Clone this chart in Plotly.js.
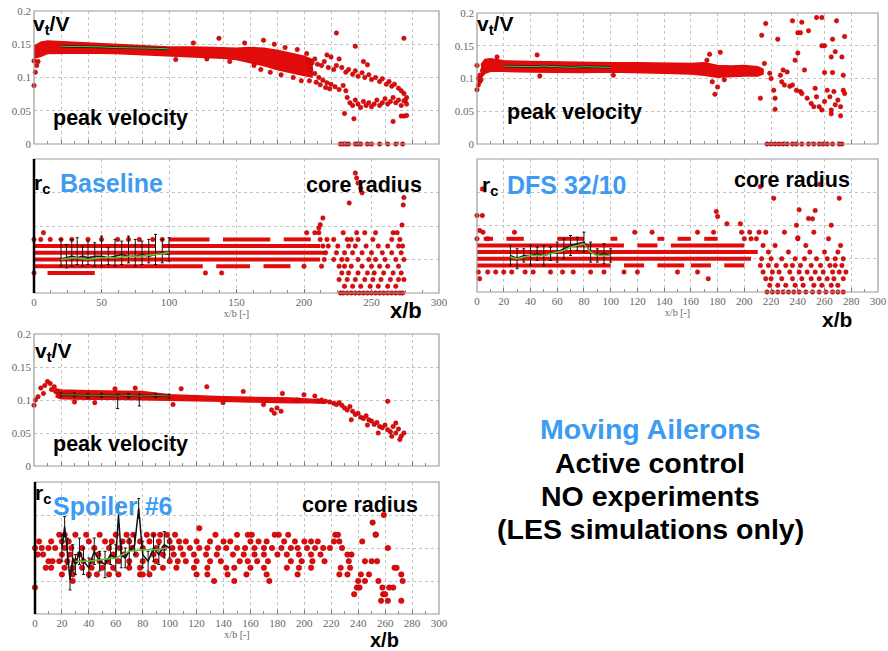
<!DOCTYPE html>
<html><head><meta charset="utf-8">
<script src="https://cdn.plot.ly/plotly-3.0.1.min.js"></script>
<style>html,body{margin:0;padding:0;background:#fff}#chart{width:888px;height:651px}</style>
</head><body><div id="chart"></div>
<script>
// ================= DATA =================
// ---- Baseline : peak velocity v_t/V ----
const baseBandX  = [0, 5, 10, 20, 40, 60, 80, 100, 120, 140, 150, 160, 170, 180, 190, 200, 206];
const baseBandHi = [0.147,0.153,0.155,0.154,0.152,0.150,0.148,0.146,0.146,0.145,0.144,0.145,0.144,0.141,0.137,0.132,0.127];
const baseBandLo = [0.129,0.132,0.136,0.137,0.137,0.136,0.135,0.133,0.131,0.129,0.127,0.123,0.118,0.112,0.107,0.103,0.101];
const baseVelX = [0,1,2,0,3, 137,170,105,118,128,145,156,163,168,175,178,183,186,192,195,198,202,
  203,206,208,210,213,215,217,218,220,222,224,226,228,231,233,236,238,240,243,244,245,247,248,250,253,256,258,261,263,265,267,270,272,274,276,275,
  205,208,211,214,217,220,223,226,229,231,204,209,212,216,219,
  232,234,236,238,240,242,244,246,248,250,252,254,256,258,260,262,264,266,268,270,272,274,276,
  224,238,274,230,237,266,272,274,276,
  227,229,231,233,238,240,242,247,250,256,262,268,273];
const baseVelY = [0.088,0.108,0.118,0.125,0.124, 0.159,0.156,0.127,0.152,0.128,0.124,0.152,0.118,0.112,0.108,0.150,0.104,0.145,0.100,0.142,0.095,0.136,
  0.125,0.122,0.128,0.120,0.118,0.124,0.134,0.115,0.131,0.112,0.118,0.128,0.115,0.108,0.112,0.105,0.110,0.102,0.107,0.124,0.100,0.119,0.104,0.097,0.100,0.094,0.098,0.090,0.094,0.087,0.090,0.084,0.080,0.076,0.070,0.065,
  0.112,0.106,0.100,0.096,0.092,0.090,0.086,0.082,0.088,0.080,0.095,0.093,0.089,0.085,0.083,
  0.070,0.062,0.058,0.066,0.060,0.055,0.064,0.058,0.062,0.056,0.060,0.066,0.058,0.062,0.068,0.060,0.064,0.070,0.062,0.066,0.058,0.065,0.060,
  0.167,0.147,0.159,0.046,0.038,0.034,0.042,0.042,0.043,
  0,0,0,0,0,0,0,0,0,0,0,0,0];
const baseMeanX = [20,30,40,50,60,70,80,90,100];
const baseMeanY = [0.147,0.147,0.146,0.146,0.145,0.145,0.144,0.144,0.143];

// ---- Baseline : core radius r_c (quantised rows) ----
const baseRowSegY  = [1.6,1.6,1.6,1.4,1.4,1.2,1.0,0.8,0.8,0.8,0.6];
const baseRowSegX0 = [100,140,185,0,95,0,0,0,135,170,10];
const baseRowSegX1 = [130,175,205,90,212,215,212,125,160,190,45];
const baseRadLevels = [1.8,1.6,1.4,1.2,1.0,0.8,0.6,0.4,0.2,0];
const baseRadRows = [
  [7,202,208,211,229,239,245,253,266,269],
  [0,5,12,20,28,40,50,62,70,78,88,95,212,217,222,232,235,240,251,265,271],
  [214,218,225,233,238,246,255,262,270,273],
  [216,224,230,236,243,250,258,265,272],
  [215,222,228,232,240,248,253,260,268,274],
  [200,213,226,230,235,243,250,256,262,270],
  [0,127,139,228,233,240,247,252,259,266,272],
  [226,232,238,245,251,257,264,270,274],
  [230,236,242,249,255,262,268],
  [227,229,232,235,238,241,244,247,250,253,256,259,262,265,268,271,273]
];
const baseRadHiX = [233.5,238,239,240,242,243,274,273.5,272.6,214,212,211];
const baseRadHiY = [2.69,3.58,3.43,3.28,3.13,2.99,2.85,2.63,2.03,2.24,2.04,1.94];
const baseRadMeanX = [20,24,28,32,36,40,45,50,55,60,65,70,75,80,85,90,95,100];
const baseRadMeanY = [1.0,1.05,1.1,1.05,1.1,1.05,1.1,1.1,1.05,1.1,1.15,1.1,1.1,1.15,1.1,1.15,1.2,1.15];
const baseRadErrUp = [0.6,0.4,0.5,0.6,0.3,0.5,0.4,0.6,0.3,0.5,0.4,0.6,0.5,0.4,0.5,0.6,0.4,0.5];
const baseRadErrDn = [0.2,0.3,0.3,0.2,0.3,0.2,0.3,0.3,0.2,0.3,0.3,0.2,0.3,0.3,0.2,0.3,0.3,0.2];
const baseRadGreenX = [20,30,40,50,60,70,80,90,100];
const baseRadGreenY = [1.0,1.05,1.0,1.05,1.05,1.1,1.1,1.15,1.2];

// ---- DFS 32/10 : peak velocity ----
const dfsBandX  = [3,6,10,20,40,60,80,100,120,140,160,170,180,190,200,210,214];
const dfsBandHi = [0.121,0.129,0.130,0.127,0.126,0.125,0.124,0.124,0.124,0.123,0.123,0.124,0.120,0.119,0.120,0.118,0.114];
const dfsBandLo = [0.101,0.108,0.111,0.111,0.110,0.109,0.109,0.110,0.109,0.108,0.107,0.105,0.102,0.103,0.104,0.104,0.107];
const dfsVelX = [0,1,2,1,3,0,4,2, 45,47,102,15,174,182,180,178,176,172,185,
  216,213,212,225,223,236,243,240,242,248,254,258,269,275,266,260,258,240,238,268,265,273,245,260,266,274,
  215,219,220,222,223,227,228,229,232,230,234,236,239,242,243,247,250,252,253,254,256,258,260,262,264,265,267,268,270,272,274,275,265,272,
  217,220,223,226,229,232,236,239,243,248,252,256,259,262,266,271,273];
const dfsVelY = [0.083,0.090,0.095,0.100,0.098,0.120,0.112,0.105, 0.136,0.104,0.105,0.133,0.137,0.140,0.087,0.076,0.095,0.128,0.098,
  0.184,0.166,0.070,0.160,0.053,0.188,0.186,0.170,0.170,0.173,0.193,0.193,0.188,0.164,0.160,0.150,0.150,0.139,0.128,0.141,0.133,0.133,0.113,0.109,0.109,0.105,
  0.123,0.108,0.100,0.082,0.070,0.105,0.095,0.113,0.110,0.090,0.088,0.090,0.082,0.080,0.077,0.070,0.062,0.057,0.085,0.072,0.057,0.052,0.065,0.082,0.072,0.052,0.080,0.060,0.067,0.057,0.082,0.077,0.046,0.043,
  0,0,0,0,0,0,0,0,0,0,0,0,0,0,0,0,0];
const dfsMeanX = [20,30,40,50,60,70,80,90,100];
const dfsMeanY = [0.119,0.118,0.118,0.119,0.118,0.117,0.118,0.118,0.117];

// ---- DFS 32/10 : core radius ----
const dfsRowSegY  = [1.4,1.4,1.4,1.2,1.0,0.8,0.8,0.8,0.8,0.8,1.6,1.6,1.6,1.6,1.6,1.6,1.6];
const dfsRowSegX0 = [0,120,145,0,0,0,110,135,160,185,5,22,60,100,135,150,170];
const dfsRowSegX1 = [110,135,200,210,205,100,125,155,175,200,12,35,80,105,140,160,180];
const dfsRadLevels = [1.8,1.6,1.4,1.2,1.0,0.8,0.6,0.4,0.2,0];
const dfsRadRows = [
  [4.5,28,118,131,165,177,198,204,211,216,230,252],
  [0,8,200,205,209,240,263],
  [214,223,246,272],
  [218,233,249,260,270],
  [213,220,228,238,245,254,262,268,274],
  [212,218,224,231,236,242,250,257,264,268,273],
  [1,8,14,20,26,36,42,55,64,72,85,95,110,120,150,165,214,221,226,234,241,247,253,259,266,271,276],
  [2,173,216,220,228,236,243,250,256,262,267,274],
  [219,225,231,238,244,252,258,265,270],
  [217,221,225,229,233,237,241,246,251,256,261,266,270,274]
];
const dfsRadHiX = [0,4,4,2,179,180,187,197,212,222,271,256.5,241,248,251,253,239,265,240];
const dfsRadHiY = [2.3,2.3,3.1,1.85,2.42,2.27,2.05,2.05,3.17,2.82,2.82,3.24,2.47,2.21,2.2,2.45,2.01,2.01,1.63];
const dfsRadMeanX = [25,30,35,40,45,50,55,60,65,70,75,80,85,90,95,100];
const dfsRadMeanY = [1.1,1.0,1.1,1.1,1.15,1.1,1.15,1.2,1.3,1.4,1.45,1.5,1.2,1.1,1.15,1.1];
const dfsRadErr   = [0.3,0.3,0.2,0.3,0.2,0.3,0.2,0.3,0.3,0.3,0.2,0.3,0.3,0.2,0.3,0.2];
const dfsRadGreenY = [1.05,1.0,1.05,1.1,1.1,1.1,1.15,1.2,1.25,1.35,1.4,1.45,1.2,1.1,1.1,1.1];

// ---- Spoiler #6 : peak velocity ----
const spBandX  = [16,20,40,60,80,100,120,140,160,175,190,205,215];
const spBandHi = [0.117,0.115,0.114,0.113,0.113,0.108,0.106,0.105,0.104,0.104,0.103,0.101,0.099];
const spBandLo = [0.105,0.102,0.101,0.101,0.101,0.100,0.099,0.098,0.097,0.096,0.096,0.096,0.095];
const spVelX = [0,1,3,7,10,12,15,16,5,8,13,
  109,128,155,184,60,75,30,45,103,140,176,178,180,183,170,195,200,208,210,
  213,216,219,222,224,226,228,230,232,234,236,238,240,242,244,246,248,250,252,254,256,258,260,262,264,266,268,270,272,274,
  235,247,255,265,271,262,268];
const spVelY = [0.092,0.100,0.105,0.110,0.128,0.125,0.120,0.113,0.118,0.122,0.116,
  0.117,0.120,0.113,0.110,0.117,0.118,0.097,0.096,0.093,0.096,0.085,0.080,0.088,0.083,0.093,0.100,0.108,0.106,0.099,
  0.100,0.098,0.097,0.095,0.093,0.096,0.092,0.088,0.085,0.090,0.083,0.078,0.080,0.074,0.072,0.076,0.070,0.068,0.063,0.066,0.060,0.058,0.062,0.098,0.052,0.060,0.065,0.056,0.045,0.050,
  0.070,0.062,0.050,0.045,0.040,0.055,0.050];
const spMeanX = [20,30,40,50,62,70,78,90,100];
const spMeanY = [0.108,0.108,0.107,0.107,0.106,0.107,0.106,0.107,0.106];
const spMeanErrUp = [0.003,0.003,0.003,0.003,0.003,0.003,0.003,0.003,0.003];
const spMeanErrDn = [0.003,0.003,0.004,0.003,0.019,0.004,0.015,0.003,0.003];

// ---- Spoiler #6 : core radius ----
const spRadLevels = [2.4,2.2,2.0,1.8,1.6,1.4,1.2,1.0,0.8,0.6,0.4];
const spRadRows = [
  [18,22,30,38,48,60,68,73,83,88,93,98,104,134,150,158,161,178,181,188,223,225,253],
  [3,12,20,25,40,52,57,65,70,78,85,92,100,107,112,120,130,140,145,160,166,172,185,193,200,205,210,222,226,243],
  [0,5,10,15,22,27,35,44,55,63,72,80,90,96,102,108,115,122,128,136,142,150,156,163,170,176,183,190,195,202,208,214,219,228,262],
  [2,6,20,26,33,47,58,66,75,88,95,103,110,118,127,135,147,155,163,170,180,187,196,205,212,232,235],
  [10,13,18,24,30,36,42,48,54,62,70,80,90,100,106,112,120,130,138,152,158,165,173,190,198,206,215,233,245,250,254],
  [8,12,22,28,35,42,50,58,70,78,88,95,105,118,128,142,148,160,170,187,196,205,227,234,267,268.5],
  [20,28,40,46,55,62,78,80,85,120,128,143,157,172,195,226,232,242,248,272],
  [28,133,148,174,240,245,255,273],
  [0,239,241,258,263,266],
  [237,258.5,260],
  [257,262,272]
];
const spRadHiX = [250.7,253,259,122];
const spRadHiY = [2.77,2.41,3.0,2.6];
const spBlackX = [20,22,24,26,28,30,33,36,40,44,48,52,56,60,62,64,67,70,74,77,80,84,88,92,96,100];
const spBlackY = [2.0,2.65,1.9,1.03,1.7,1.5,1.9,1.6,1.4,1.9,1.6,1.5,1.8,1.7,3.0,1.8,1.7,1.9,2.1,3.2,1.8,1.6,2.0,1.8,2.1,2.0];
const spBlackErr = [0.4,0.3,0.4,0.3,0.4,0.3,0.4,0.4,0.3,0.4,0.3,0.4,0.3,0.4,0.3,0.4,0.3,0.4,0.3,0.3,0.4,0.3,0.4,0.3,0.4,0.3];
const spGreenX = [30,40,50,60,70,80,90,98];
const spGreenY = [1.6,1.6,1.65,1.7,1.9,1.95,1.95,2.0];

// ================= LAYOUT HELPERS =================
const W = 888, H = 651;
const RED = '#e20b0b', REDEDGE = '#a00000', BLUE = '#3d9cf2';
// panel boxes in pixels: [left, right, top, bottom]
const boxes = [
  [34, 439, 11, 144],   // 1 baseline velocity
  [34, 439, 159, 293],  // 2 baseline radius
  [477, 878, 13, 144],  // 3 DFS velocity
  [477, 878, 159, 292], // 4 DFS radius
  [34, 439, 334, 466],  // 5 spoiler velocity
  [35, 439, 482, 614]   // 6 spoiler radius
];
const sfx = i => (i === 1 ? '' : String(i));
const traces = [];
function dots(xs, ys, p, size) {
  traces.push({type:'scatter', mode:'markers', x:xs, y:ys, xaxis:'x'+sfx(p), yaxis:'y'+sfx(p), cliponaxis:false,
    marker:{size:size||4.5, color:RED, line:{color:REDEDGE, width:0.5}}, hoverinfo:'skip'});
}
function band(xs, hi, lo, p) {
  const bx = xs.concat(xs.slice().reverse());
  const by = hi.concat(lo.slice().reverse());
  traces.push({type:'scatter', mode:'lines', x:bx, y:by, fill:'toself', fillcolor:RED,
    line:{color:RED, width:1.5}, xaxis:'x'+sfx(p), yaxis:'y'+sfx(p), hoverinfo:'skip'});
}
function segs(sy, sx0, sx1, p, w) {
  const xs = [], ys = [];
  sy.forEach((y, i) => { xs.push(sx0[i], sx1[i], null); ys.push(y, y, null); });
  traces.push({type:'scatter', mode:'lines', x:xs, y:ys, line:{color:RED, width:w||4},
    xaxis:'x'+sfx(p), yaxis:'y'+sfx(p), hoverinfo:'skip'});
}
function rows(levels, rowsX, p, size) {
  const xs = [], ys = [];
  levels.forEach((lv, i) => rowsX[i].forEach(x => { xs.push(x); ys.push(lv); }));
  dots(xs, ys, p, size);
}
function line(xs, ys, p, color, width, err) {
  const t = {type:'scatter', mode:'lines', x:xs, y:ys, line:{color:color, width:width},
    xaxis:'x'+sfx(p), yaxis:'y'+sfx(p), hoverinfo:'skip'};
  if (err) t.error_y = Object.assign({type:'data', color:'#111', thickness:1, width:1.5, visible:true}, err);
  traces.push(t);
}

// ---- build traces ----
band(baseBandX, baseBandHi, baseBandLo, 1);
dots(baseVelX, baseVelY, 1);
line(baseMeanX, baseMeanY, 1, '#1a1a1a', 2.5);
line(baseMeanX, baseMeanY, 1, '#58c43a', 1);

segs(baseRowSegY, baseRowSegX0, baseRowSegX1, 2);
rows(baseRadLevels, baseRadRows, 2);
dots(baseRadHiX, baseRadHiY, 2);
line(baseRadMeanX, baseRadMeanY, 2, '#1a1a1a', 1.5, {symmetric:false, array:baseRadErrUp, arrayminus:baseRadErrDn});
line(baseRadGreenX, baseRadGreenY, 2, '#58c43a', 1.5);

band(dfsBandX, dfsBandHi, dfsBandLo, 3);
dots(dfsVelX, dfsVelY, 3);
line(dfsMeanX, dfsMeanY, 3, '#1a1a1a', 2.5);
line(dfsMeanX, dfsMeanY, 3, '#58c43a', 1);

segs(dfsRowSegY, dfsRowSegX0, dfsRowSegX1, 4);
rows(dfsRadLevels, dfsRadRows, 4);
dots(dfsRadHiX, dfsRadHiY, 4);
line(dfsRadMeanX, dfsRadMeanY, 4, '#1a1a1a', 1.5, {array:dfsRadErr});
line(dfsRadMeanX, dfsRadGreenY, 4, '#58c43a', 1.5);

band(spBandX, spBandHi, spBandLo, 5);
dots(spVelX, spVelY, 5);
line(spMeanX, spMeanY, 5, '#3a1a10', 2.5, {symmetric:false, array:spMeanErrUp, arrayminus:spMeanErrDn});
line(spMeanX, spMeanY, 5, '#7a8a30', 1);

rows(spRadLevels, spRadRows, 6, 5.5);
dots(spRadHiX, spRadHiY, 6, 5.5);
line(spBlackX, spBlackY, 6, '#111', 1.5, {array:spBlackErr});
line(spGreenX, spGreenY, 6, '#58c43a', 1.5);

// ---- axes ----
const layout = {width:W, height:H, margin:{l:0, r:0, t:0, b:0}, showlegend:false,
  paper_bgcolor:'#fff', plot_bgcolor:'#fff', shapes:[], annotations:[]};
const tickFont = {family:'Liberation Serif, Times New Roman, serif', size:11, color:'#666'};
const gridC = '#c4c4c4';
boxes.forEach((b, i) => {
  const p = i + 1;
  const isVel = (p % 2 === 1);
  const xa = {domain:[b[0]/W, b[1]/W], range:[0,300], anchor:'y'+sfx(p), showline:false, zeroline:false,
    showgrid:true, gridcolor:gridC, griddash:'dot', gridwidth:1, ticks:'inside', ticklen:4, tickcolor:'#777',
    tickfont:tickFont, fixedrange:true,
    minor:{dtick:10, ticks:'inside', ticklen:3, tickcolor:'#888', showgrid:false}};
  const ya = {domain:[1 - b[3]/H, 1 - b[2]/H], anchor:'x'+sfx(p), showline:false, zeroline:false,
    showgrid:true, gridcolor:gridC, griddash:'dot', gridwidth:1, tickfont:tickFont, fixedrange:true};
  if (isVel) {
    xa.dtick = 20; xa.showticklabels = false;
    ya.range = [0, 0.2]; ya.tickvals = [0,0.05,0.1,0.15,0.2]; ya.ticktext = ['0','0.05','0.1','0.15','0.2'];
    ya.ticks = ''; ya.ticklabelstandoff = 2;
  } else {
    xa.dtick = (p === 2) ? 50 : 20;
    xa.minor.dtick = (p === 2) ? 12.5 : 10;
    xa.title = {text:'x/b [-]', font:{family:'Liberation Serif, serif', size:10, color:'#666'}, standoff:1};
    xa.ticklabelstandoff = 1;
    ya.range = [0, 4]; ya.dtick = 1; ya.showticklabels = false; ya.ticks = '';
  }
  layout['xaxis'+sfx(p)] = xa;
  layout['yaxis'+sfx(p)] = ya;
  layout.shapes.push({type:'rect', xref:'x'+sfx(p)+' domain', yref:'y'+sfx(p)+' domain',
    x0:0, x1:1, y0:0, y1:1, line:{color:'#9a9a9a', width:1.2}, layer:'above'});
});
// dark left edge of the baseline and spoiler core-radius panels
[2, 6].forEach(p => layout.shapes.push({type:'line', xref:'x'+sfx(p)+' domain', yref:'y'+sfx(p)+' domain',
  x0:0, x1:0, y0:0, y1:1, line:{color:'#000', width:2.5}, layer:'above'}));

// ---- text labels (pixel positions) ----
function label(text, px, py, size, color, anchor) {
  layout.annotations.push({text:text, xref:'paper', yref:'paper', x:px/W, y:1 - py/H,
    xanchor:anchor||'left', yanchor:'middle', showarrow:false,
    font:{family:'Liberation Sans, Arial, sans-serif', size:size, color:color||'#000', weight:'bold'}});
}
const SUB = s => '<sub>' + s + '</sub>';
label('v' + SUB('t') + '/V', 31, 25, 21);
label('peak velocity', 51, 118, 21.5);
label('r' + SUB('c'), 32, 184, 21);
label('Baseline', 58, 183, 25, BLUE);
label('core radius', 304, 185, 21.5);
label('x/b', 388, 310, 22);

label('v' + SUB('t') + '/V', 475, 25, 21);
label('peak velocity', 505, 112, 21.5);
label('r' + SUB('c'), 480, 186, 21);
label('DFS 32/10', 505, 185, 25, BLUE);
label('core radius', 732, 180, 21.5);
label('x/b', 820, 320, 21);

label('v' + SUB('t') + '/V', 33, 352, 21);
label('peak velocity', 51, 444, 21.5);
label('r' + SUB('c'), 33, 494, 21);
label('Spoiler #6', 51, 506, 25, BLUE);
label('core radius', 300, 505, 21.5);
label('x/b', 368, 640, 20);

label('Moving Ailerons', 650, 429, 28.5, BLUE, 'center');
label('Active control', 650, 463, 28.5, '#000', 'center');
label('NO experiments', 650, 496, 28.5, '#000', 'center');
label('(LES simulations only)', 650, 529, 28.5, '#000', 'center');

Plotly.newPlot('chart', traces, layout, {staticPlot:true, displayModeBar:false});
</script>
</body></html>
